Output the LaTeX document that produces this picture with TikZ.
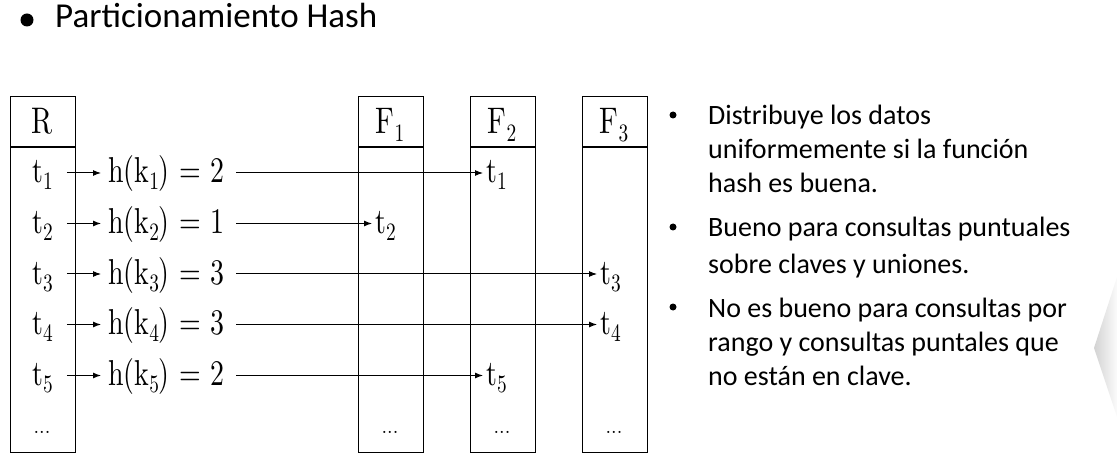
\documentclass[tikz,border=0pt]{standalone}
\usepackage{fontspec}
\newfontfamily\bodyfont{Carlito}
\newfontfamily\tabfont{lmroman10-regular}[Extension=.otf]
\usetikzlibrary{arrows.meta}
\newcommand\sbs[1]{\raisebox{-7pt}{\fontsize{25}{25}\selectfont #1}}
\newcommand\hsb[1]{\raisebox{-8pt}{\fontsize{25}{25}\selectfont #1}}
\newcommand\nar[1]{\scalebox{0.775}[1]{#1}}
\tikzset{
  colbox/.style={draw, line width=1.1pt, minimum width=65pt, minimum height=356pt, anchor=north west, inner sep=0pt},
  tt/.style={inner sep=0pt, anchor=west, text height=26pt, text depth=6pt, font=\tabfont\fontsize{36}{40}\selectfont},
  hd/.style={inner sep=0pt, anchor=base, font=\tabfont\fontsize{37}{40}\selectfont},
  dots/.style={inner sep=0pt, anchor=base, font=\tabfont\fontsize{20}{24}\selectfont},
  arr/.style={line width=1pt, -{Latex[length=8pt,width=6pt]}},
  bl/.style={inner sep=0pt, anchor=base west, font=\bodyfont\fontsize{28}{32}\selectfont},
  bdot/.style={circle, fill, inner sep=0pt, minimum size=7pt},
}
\begin{document}
\begin{tikzpicture}[x=1pt,y=-1pt]
\useasboundingbox (0,0) rectangle (1117,473);
% right edge shadow
\shade[left color=gray!35, right color=gray!3] (1094,348) -- (1117,277) -- (1117,417) -- cycle;
% title
\node[circle, fill, inner sep=0pt, minimum size=13pt] (tb) at (27,20) {};
\node[inner sep=0pt, anchor=base west, font=\bodyfont\fontsize{35}{40}\selectfont] (title) at (55,28) {Particionamiento Hash};
% columns
\node[colbox] (R) at (10,96) {};
\node[colbox] (F1) at (358,96) {};
\node[colbox] (F2) at (470,96) {};
\node[colbox] (F3) at (582,96) {};
\foreach \c in {R,F1,F2,F3}{
  \draw[line width=1.1pt] (\c.west |- 0,147) -- (\c.east |- 0,147);
}
% headers
\node[hd] (hR) at (42,134) {\nar{R}};
\node[hd] (hF1) at (390,134) {\nar{F\hsb{1}}};
\node[hd] (hF2) at (502,134) {\nar{F\hsb{2}}};
\node[hd] (hF3) at (614,134) {\nar{F\hsb{3}}};
% dots
\foreach \c/\x in {R/42,F1/390,F2/502,F3/614}{
  \node[dots] (d\c) at (\x,433) {...};
}
% rows
\foreach \i/\y/\v/\tx in {1/173/2/486,2/223.5/1/375,3/274/3/600,4/324.5/3/600,5/375.5/2/486}{
  \node[tt] (r\i) at (32,\y) {\nar{t\sbs{\i}}};
  \node[tt] (h\i) at (108,\y) {\nar{h(k\sbs{\i}) = \v}};
  \node[tt] (g\i) at (\tx,\y) {\nar{t\sbs{\i}}};
  \draw[arr] ([xshift=14pt]r\i.east) -- ([xshift=-7pt]h\i.west);
  \draw[arr] ([xshift=12pt]h\i.east) -- ([xshift=-3pt]g\i.west);
}
% bullets
\node[bdot] (b1) at (673,115) {};
\node[bdot] (b2) at (673,227) {};
\node[bdot] (b3) at (673,307) {};
\node[bl] (l1) at (708,125) {Distribuye los datos};
\node[bl] (l2) at (708,159) {uniformemente si la función};
\node[bl] (l3) at (708,193) {hash es buena.};
\node[bl] (l4) at (708,237) {Bueno para consultas puntuales};
\node[bl] (l5) at (708,273) {sobre claves y uniones.};
\node[bl] (l6) at (708,317) {No es bueno para consultas por};
\node[bl] (l7) at (708,351) {rango y consultas puntales que};
\node[bl] (l8) at (708,385) {no están en clave.};
\end{tikzpicture}
\end{document}
